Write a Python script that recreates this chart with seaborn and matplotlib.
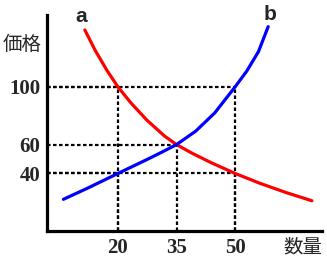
import numpy as np
import pandas as pd
import matplotlib
matplotlib.use("Agg")
import matplotlib.pyplot as plt
import seaborn as sns

# Curve a (red, decreasing)
a_x = [11.5, 14.1, 17.1, 20, 23.3, 27.4, 31.9, 35, 39, 44, 50, 56.4, 63.2, 69.7]
a_y = [139.6, 125.7, 111.8, 100, 89, 77, 66, 60, 54, 47.3, 40, 33.1, 26.6, 21]
# Curve b (blue, increasing)
b_x = [6.0, 12.4, 20, 27.4, 31.2, 35, 39.9, 44.8, 50, 53, 56, 58.5]
b_y = [22, 30, 40, 49.6, 54.7, 60, 69.3, 82, 100, 111, 124.5, 141.9]

x_ticks = [20, 35, 50]
y_ticks = [40, 60, 100]
x_label = "数量"
y_label = "価格"
# dotted guides: (quantity, price)
guide_q = [20, 35, 50, 20, 50]
guide_p = [100, 60, 100, 40, 40]

sns.set_style("white")
plt.rcParams['font.family'] = ['DejaVu Sans']

fig = plt.figure(figsize=(3.27, 2.6), dpi=100)
ax = fig.add_axes([47/327, 29/260, (322-47)/327, (231-15)/260])
x0, x1 = 1.8, 72.3
ax.set_xlim(x0, x1)
ax.set_ylim(0, 150)

df_a = pd.DataFrame({"q": a_x, "p": a_y})
df_b = pd.DataFrame({"q": b_x, "p": b_y})

dot = (0, (1.6, 1.1))
for q, p in zip(guide_q, guide_p):
    ax.plot([x0, q], [p, p], color="black", lw=1.6, linestyle=dot, zorder=1)
    ax.plot([q, q], [0, p], color="black", lw=1.6, linestyle=dot, zorder=1)

sns.lineplot(data=df_a, x="q", y="p", color="#ff0000", lw=2.3, ax=ax, sort=False, zorder=3)
sns.lineplot(data=df_b, x="q", y="p", color="#0000ff", lw=2.3, ax=ax, sort=False, zorder=3)

ax.annotate("a", (a_x[0], a_y[0]), xytext=(-2.5, 9.5), textcoords="offset points",
            ha="center", va="center", fontsize=15, fontweight="bold", family="Liberation Sans")
ax.annotate("b", (b_x[-1], b_y[-1]), xytext=(1.5, 8.5), textcoords="offset points",
            ha="center", va="center", fontsize=15, fontweight="bold", family="Liberation Sans")

ax.set_xticks(x_ticks)
ax.set_yticks(y_ticks)
ax.set_xticklabels([str(v) for v in x_ticks], fontsize=15, family="Liberation Serif", fontweight="bold")
ax.set_yticklabels([str(v) for v in y_ticks], fontsize=15, family="Liberation Serif", fontweight="bold")
ax.tick_params(length=0, pad=5)
ax.set_xlabel("")
ax.set_ylabel("")

for s in ["top", "right"]:
    ax.spines[s].set_visible(False)
for s in ["left", "bottom"]:
    ax.spines[s].set_linewidth(2.3)
    ax.spines[s].set_color("black")

fig.text(22/327, 1 - 44/260, y_label, ha="center", va="center", fontsize=14,
         family=["Noto Sans CJK JP", "DejaVu Sans"])
fig.text(303/327, 1 - 247/260, x_label, ha="center", va="center", fontsize=14,
         family=["Noto Sans CJK JP", "DejaVu Sans"])

fig.savefig("out.png", dpi=100)
